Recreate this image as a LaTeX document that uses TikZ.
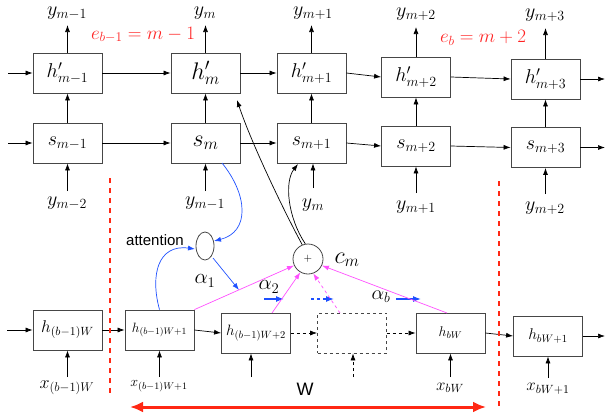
\RequirePackage{fix-cm}
\documentclass[tikz,border=0pt]{standalone}
\usepackage{fontspec}
\newfontfamily\helv{Liberation Sans}
\usetikzlibrary{arrows.meta,shapes.geometric}
\definecolor{myred}{RGB}{255,40,20}
\definecolor{elab}{RGB}{255,35,35}
\definecolor{myblue}{RGB}{30,80,255}
\definecolor{mypink}{RGB}{255,80,255}
\definecolor{boxgray}{RGB}{70,70,70}
\tikzset{
  box/.style={draw=boxgray, line width=0.8pt, minimum width=69pt, minimum height=40pt, inner sep=0pt},
  dbox/.style={box, dashed},
  arr/.style={-{Latex[length=7pt,width=5pt]}, line width=0.7pt},
  barr/.style={-{Latex[length=8pt,width=6pt]}, line width=1.2pt, myblue},
  fa/.style={font=\fontsize{20}{24}\selectfont},
  fb/.style={font=\fontsize{24}{28}\selectfont},
  fc/.style={font=\fontsize{15}{18}\selectfont},
  fd/.style={font=\fontsize{17}{20}\selectfont},
  lab/.style={inner sep=0pt},
}
\begin{document}
\begin{tikzpicture}[x=1pt,y=-1pt]
\useasboundingbox (0,0) rectangle (605,418);
% top row h'
\node[box,fa] (hp1) at (67.5,73) {$h'_{m-1}$};
\node[box,fb] (hp2) at (205.5,73) {$h'_m$};
\node[box,fa] (hp3) at (311.5,73) {$h'_{m+1}$};
\node[box,fa] (hp4) at (416,77) {$h'_{m+2}$};
\node[box,fa] (hp5) at (545.5,79) {$h'_{m+3}$};
% s row
\node[box,fa] (s1) at (67.5,143) {$s_{m-1}$};
\node[box,fb] (s2) at (205.5,143) {$s_m$};
\node[box,fa] (s3) at (311.5,143) {$s_{m+1}$};
\node[box,fa] (s4) at (416,146) {$s_{m+2}$};
\node[box,fa] (s5) at (545.5,147.5) {$s_{m+3}$};
% top labels
\node[lab,fa] (yt1) at (67,13) {$y_{m-1}$};
\node[lab,fa] (yt2) at (205,13) {$y_m$};
\node[lab,fa] (yt3) at (313,13) {$y_{m+1}$};
\node[lab,fa] (yt4) at (416,14.5) {$y_{m+2}$};
\node[lab,fa] (yt5) at (545,15.5) {$y_{m+3}$};
\coordinate (ct1) at (67.5,25);
\coordinate (ct2) at (205.5,25);
\coordinate (ct3) at (311.5,25);
\coordinate (ct4) at (416,27);
\coordinate (ct5) at (545.5,28);
\foreach \i in {1,...,5} {\draw[arr] (hp\i.north) -- (ct\i);}
\foreach \i in {1,...,5} {\draw[arr] (s\i.north) -- (hp\i.south);}
% horizontal arrows
\coordinate (lin1) at (8,73);
\coordinate (lin2) at (8,143);
\coordinate (rout1) at (605,79);
\coordinate (rout2) at (605,147.5);
\draw[arr] (lin1) -- (hp1.west);
\draw[arr] (lin2) -- (s1.west);
\draw[arr] (hp1.east) -- (hp2.west);
\draw[arr] (hp2.east) -- (hp3.west);
\draw[arr] (hp3.east) -- (hp4.west);
\draw[arr] (hp4.east) -- (hp5.west);
\draw[arr] (hp5.east) -- (rout1);
\draw[arr] (s1.east) -- (s2.west);
\draw[arr] (s2.east) -- (s3.west);
\draw[arr] (s3.east) -- (s4.west);
\draw[arr] (s4.east) -- (s5.west);
\draw[arr] (s5.east) -- (rout2);
% bottom y labels
\node[lab,fa] (yb1) at (67,203) {$y_{m-2}$};
\node[lab,fa] (yb2) at (205,203) {$y_{m-1}$};
\node[lab,fa] (yb3) at (313,205) {$y_m$};
\node[lab,fa] (yb4) at (416,207) {$y_{m+1}$};
\node[lab,fa] (yb5) at (545,208) {$y_{m+2}$};
\coordinate (cb1) at (67.5,191);
\coordinate (cb2) at (205.5,191);
\coordinate (cb3) at (313,188);
\coordinate (cb4) at (416,193);
\coordinate (cb5) at (545.5,194);
\draw[arr] (cb1) -- (s1.south);
\draw[arr] (cb2) -- (s2.south);
\draw[arr] (cb3) -- (cb3 |- s3.south);
\draw[arr] (cb4) -- (s4.south);
\draw[arr] (cb5) -- (s5.south);
% red labels
\node[lab,font=\fontsize{19}{22}\selectfont,text=elab] (eb1) at (143,35) {$e_{b-1}=m-1$};
\node[lab,font=\fontsize{19}{22}\selectfont,text=elab] (eb2) at (483,38) {$e_b=m+2$};
% bottom row
\node[box,fd] (b1) at (67.5,330) {$h_{(b-1)W}$};
\node[box,font=\fontsize{13.5}{16}\selectfont] (b2) at (159.5,330) {$h_{(b-1)W+1}$};
\node[box,fc] (b3) at (256,333) {$h_{(b-1)W+2}$};
\node[dbox] (b4) at (352,333) {};
\node[box,font=\fontsize{14}{16}\selectfont] (b5) at (450.5,333) {$h_{bW}$};
\node[box,font=\fontsize{15.5}{18}\selectfont] (b6) at (548,336) {$h_{bW+1}$};
\coordinate (bin) at (7,330);
\coordinate (bout) at (605,336);
\draw[arr] (bin) -- (b1.west);
\draw[arr] (b1.east) -- (b2.west);
\draw[arr] (b2.east) -- (b3.west);
\draw[arr,dashed] (b3.east) -- (b4.west);
\draw[arr,dashed] (b4.east) -- (b5.west);
\draw[arr] (b5.east) -- (b6.west);
\draw[arr] (b6.east) -- (bout);
% x labels
\node[lab,font=\fontsize{18}{20}\selectfont] (x1) at (67,388) {$x_{(b-1)W}$};
\node[lab,font=\fontsize{14}{16}\selectfont] (x2) at (159,386) {$x_{(b-1)W+1}$};
\node[lab,font=\fontsize{17}{20}\selectfont] (x5) at (450,388) {$x_{bW}$};
\node[lab,font=\fontsize{17}{20}\selectfont] (x6) at (548,389) {$x_{bW+1}$};
\coordinate (cx1) at (67.5,377);
\coordinate (cx2) at (159.5,377);
\coordinate (cx3) at (251,377);
\coordinate (cx4) at (353,377);
\coordinate (cx5) at (450.5,377);
\coordinate (cx6) at (548,378);
\draw[arr] (cx1) -- (b1.south);
\draw[arr] (cx2) -- (b2.south);
\draw[arr] (cx3) -- (cx3 |- b3.south);
\draw[arr,dashed] (cx4) -- (cx4 |- b4.south);
\draw[arr] (cx5) -- (b5.south);
\draw[arr] (cx6) -- (b6.south);
% attention
\node[ellipse, draw=boxgray, line width=0.8pt, minimum width=18pt, minimum height=28pt, inner sep=0pt] (att) at (205,246) {};
\node[lab,font=\helv\fontsize{15}{18}\selectfont] (attl) at (155,240) {attention};
\node[circle, draw=boxgray, line width=0.8pt, minimum size=30pt, inner sep=0pt, font=\fontsize{11}{12}\selectfont] (plus) at (308,259) {$+$};
\node[lab,font=\fontsize{24}{28}\selectfont] (cm) at (347,260) {$c_m$};
\node[lab,font=\fontsize{21}{24}\selectfont] (a1) at (205,281) {$\alpha_1$};
\node[lab,font=\fontsize{21}{24}\selectfont] (a2) at (269,287) {$\alpha_2$};
\node[lab,font=\fontsize{20}{24}\selectfont] (ab) at (381,297) {$\alpha_b$};
% blue curves
\coordinate (attin) at (195,249);
\coordinate (attin2) at (214,241);
\coordinate (attout) at (213,258);
\coordinate (a1tip) at (239,290);
\draw[arr,myblue] (b2.north) .. controls (150,275) and (158,244) .. (attin);
\draw[arr,myblue] (222,163) .. controls (248,195) and (250,232) .. (attin2);
\draw[arr,myblue] (attout) -- (a1tip);
% short blue arrows
\coordinate (sa1) at (264,299);
\coordinate (sa2) at (284,299);
\coordinate (sb1) at (311,299);
\coordinate (sb2) at (334,299);
\coordinate (sc1) at (396,299);
\coordinate (sc2) at (421,299);
\draw[barr] (sa1) -- (sa2);
\draw[barr,dashed] (sb1) -- (sb2);
\draw[barr] (sc1) -- (sc2);
% pink arrows
\coordinate (p2s) at (272,313);
\coordinate (p4s) at (340,313);
\coordinate (p5s) at (447,313);
\draw[arr,mypink] (b2.north east) -- (plus.205);
\draw[arr,mypink] (p2s) -- (plus.240);
\draw[arr,mypink,dashed] (p4s) -- (plus.290);
\draw[arr,mypink] (p5s) -- (plus.335);
% black curves
\coordinate (hpin) at (237,100);
\coordinate (sin) at (298,164);
\draw[arr] (plus.112) .. controls (286,215) and (252,145) .. (hpin);
\draw[arr] (plus.100) .. controls (288,218) and (284,182) .. (sin);
% red dotted lines
\coordinate (d1t) at (110,178);
\coordinate (d1b) at (110,395);
\coordinate (d2t) at (499,181);
\coordinate (d2b) at (499,410);
\draw[myred, line width=2.5pt, dash pattern=on 5pt off 5pt] (d1t) -- (d1b);
\draw[myred, line width=2.5pt, dash pattern=on 5pt off 5pt] (d2t) -- (d2b);
% W arrow
\coordinate (wl) at (130,407);
\coordinate (wr) at (486,407);
\draw[myred, line width=3pt, {Latex[length=13pt,width=11pt]}-{Latex[length=13pt,width=11pt]}] (wl) -- (wr);
\node[lab,font=\helv\fontsize{18}{20}\selectfont] (wlab) at (305,389) {W};
\end{tikzpicture}
\end{document}
